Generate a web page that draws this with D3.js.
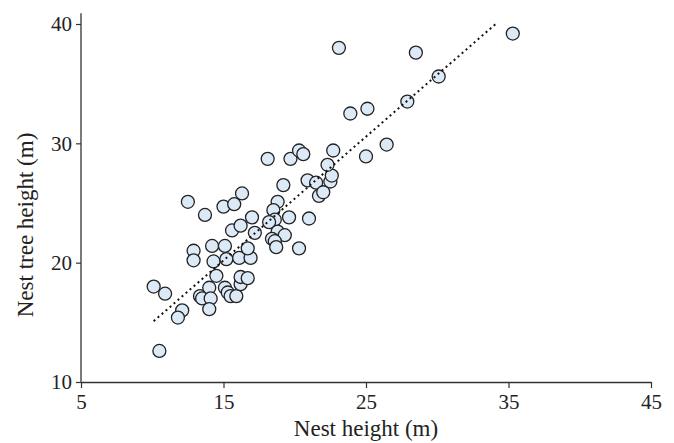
<!DOCTYPE html>
<html>
<head>
<meta charset="utf-8">
<script src="https://cdn.jsdelivr.net/npm/d3@7"></script>
<style>
  body { margin: 0; background: #fff; }
  text { font-family: "Liberation Serif", "Times New Roman", serif; fill: #222; }
</style>
</head>
<body>
<div id="chart"></div>
<script>
// nest height (m) vs nest tree height (m)
const nestHeight = [10.1, 10.9, 10.5, 12.1, 11.8, 12.5, 13.7, 12.9, 12.9, 13.35,
  13.5, 14.2, 14.3, 14.5, 14.0, 14.1, 14.0, 15.0, 15.75, 16.3,
  15.1, 15.2, 15.1, 15.3, 15.5, 15.9, 16.1, 16.9, 16.7, 16.2,
  16.2, 16.7, 15.6, 16.2, 17.0, 17.2, 18.1, 18.8, 18.5, 18.6,
  18.2, 19.6, 18.8, 19.3, 18.4, 18.6, 18.7, 20.3, 21.0, 19.2,
  19.7, 20.3, 20.6, 20.9, 21.5, 22.5, 22.6, 22.3, 22.7, 21.7,
  22.0, 25.0, 26.45, 23.9, 25.1, 23.1, 28.5, 27.9, 30.1, 35.3];
const treeHeight = [18.0, 17.4, 12.6, 16.0, 15.4, 25.1, 24.0, 21.0, 20.2, 17.2,
  17.0, 21.4, 20.1, 18.9, 17.9, 17.0, 16.1, 24.7, 24.9, 25.8,
  21.4, 20.3, 17.9, 17.5, 17.2, 17.2, 20.4, 20.4, 21.2, 18.2,
  18.8, 18.7, 22.7, 23.1, 23.8, 22.5, 28.7, 25.1, 24.4, 23.6,
  23.4, 23.8, 22.6, 22.3, 22.0, 21.8, 21.3, 21.2, 23.7, 26.5,
  28.7, 29.4, 29.1, 26.9, 26.7, 26.8, 27.3, 28.2, 29.4, 25.6,
  25.9, 28.9, 29.9, 32.5, 32.9, 38.0, 37.6, 33.5, 35.6, 39.2];

// fitted line end points
const trendX = [10.1, 34.1];
const trendY = [15.1, 40.0];

const xTicks = [5, 15, 25, 35, 45];
const yTicks = [10, 20, 30, 40];

const width = 674, height = 443;

const data = nestHeight.map((d, i) => ({ x: d, y: treeHeight[i] }));

const svg = d3.select("#chart")
  .append("svg")
  .attr("width", width)
  .attr("height", height);

const xScale = d3.scaleLinear().domain([5, 45]).range([81, 651]);
const yScale = d3.scaleLinear().domain([10, 40]).range([382, 24]);

// x axis
const gx = svg.append("g")
  .attr("transform", "translate(0," + yScale(10) + ")")
  .call(d3.axisBottom(xScale).tickValues(xTicks).tickSize(6).tickSizeOuter(0).tickPadding(6));
gx.select(".domain").attr("stroke", "#333").attr("stroke-width", 1.3);
gx.selectAll(".tick line").attr("stroke", "#333").attr("stroke-width", 1.2);
gx.selectAll(".tick text")
  .style("font-family", "Liberation Serif")
  .style("font-size", "21px")
  .attr("fill", "#222");

// y axis
const gy = svg.append("g")
  .attr("transform", "translate(" + xScale(5) + ",0)")
  .call(d3.axisLeft(yScale).tickValues(yTicks).tickSize(5).tickSizeOuter(0).tickPadding(4));
gy.select(".domain").remove();
gy.selectAll(".tick line").attr("stroke", "#333").attr("stroke-width", 1.2);
gy.selectAll(".tick text")
  .style("font-family", "Liberation Serif")
  .style("font-size", "21px")
  .attr("fill", "#222");
gy.append("line")
  .attr("x1", 0).attr("x2", 0)
  .attr("y1", yScale(10)).attr("y2", yScale(40.9))
  .attr("stroke", "#333")
  .attr("stroke-width", 1.3);

// axis titles
svg.append("text")
  .attr("x", (xScale(5) + xScale(45)) / 2)
  .attr("y", 436)
  .attr("text-anchor", "middle")
  .style("font-size", "23px")
  .text("Nest height (m)");

svg.append("text")
  .attr("transform", "translate(33," + 225 + ") rotate(-90)")
  .attr("text-anchor", "middle")
  .style("font-size", "23px")
  .text("Nest tree height (m)");

// dots
svg.selectAll("circle.pt")
  .data(data)
  .enter()
  .append("circle")
    .attr("class", "pt")
    .attr("cx", d => xScale(d.x))
    .attr("cy", d => yScale(d.y))
    .attr("r", 6.5)
    .style("fill", "#dce9f6")
    .style("stroke", "#222")
    .style("stroke-width", 1.3);

// dotted trend line on top
svg.append("line")
  .attr("x1", xScale(trendX[0]))
  .attr("y1", yScale(trendY[0]))
  .attr("x2", xScale(trendX[1]))
  .attr("y2", yScale(trendY[1]))
  .attr("stroke", "#111")
  .attr("stroke-width", 2)
  .attr("stroke-dasharray", "2,3.3");
</script>
</body>
</html>
